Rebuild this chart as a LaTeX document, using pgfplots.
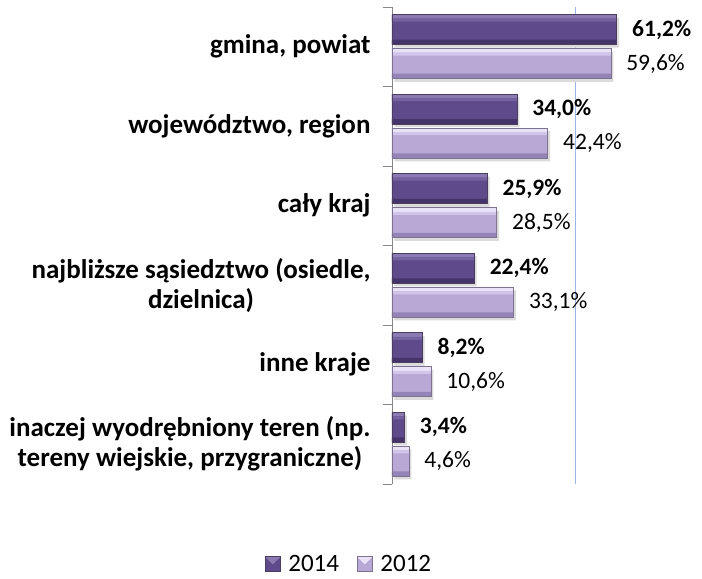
\documentclass[border=0pt]{standalone}
\usepackage{fontspec}
\setmainfont{Carlito}
\usepackage{pgfplots}
\pgfplotsset{compat=1.18}
\definecolor{dtop}{HTML}{8C7AB3}
\definecolor{dtop2}{HTML}{7463A0}
\definecolor{dmid}{HTML}{5F4A8B}
\definecolor{dbot}{HTML}{45346A}
\definecolor{ltop}{HTML}{EAE2F6}
\definecolor{ltop2}{HTML}{D2C5EA}
\definecolor{lmid}{HTML}{B8A8D5}
\definecolor{lbot}{HTML}{9483B6}
\definecolor{axisgray}{HTML}{868686}
\definecolor{gridblue}{HTML}{9DB5E6}
\definecolor{dline}{HTML}{4A3D5E}
\definecolor{lline}{HTML}{7D7390}
\pgfplotstableread{
y  v14  v12
6  61.2 59.6
5  34.0 42.4
4  25.9 28.5
3  22.4 33.1
2  8.2  10.6
1  3.4  4.6
}\data
\begin{document}
\begin{tikzpicture}
\path[use as bounding box] (-392bp,-95bp) rectangle (310bp,484bp);
\begin{axis}[
  at={(0,0)}, anchor=south west,
  scale only axis, width=257bp, height=477bp,
  xmin=0, xmax=70, ymin=0.5, ymax=6.5,
  clip=false,
  xbar,
  axis x line*=bottom, axis y line*=left,
  axis line style={-},
  x axis line style={draw=none},
  y axis line style={draw=axisgray, line width=0.9bp},
  xtick={50}, xticklabels={}, xtick style={draw=none},
  xmajorgrids, major x grid style={draw=gridblue, line width=1bp},
  ytick={1,...,6},
  major tick length=0pt,
  minor ytick={0.5,1.5,...,6.5},
  minor tick length=9bp,
  tick align=outside,
  minor y tick style={draw=axisgray, line width=0.9bp},
  yticklabels={{inaczej wyodrębniony teren (np.\\tereny wiejskie, przygraniczne)},{inne kraje},{najbliższe sąsiedztwo (osiedle,\\dzielnica)},{cały kraj},{województwo, region},{gmina, powiat}},
  yticklabel style={align=center, font=\fontsize{27bp}{30bp}\selectfont\bfseries, xshift=-18bp},
  legend columns=2,
  legend style={draw=none, fill=none, at={(axis description cs:-0.167,-0.168)}, anchor=center,
    font=\fontsize{25bp}{28bp}\selectfont,
    /tikz/every odd column/.append style={column sep=6bp},
    /tikz/every even column/.append style={column sep=16bp}},
]
% legend images
\addlegendimage{legend image code/.code={%
  \node[draw=dline, fill=dmid, line width=0.4bp, minimum width=15bp, minimum height=15bp, inner sep=0pt, anchor=west,
    path picture={\fill[dtop] (path picture bounding box.north west) -- (path picture bounding box.north east) -- (path picture bounding box.center) -- cycle;}] at (0bp,0bp) {};}}
\addlegendentry{2014}
\addlegendimage{legend image code/.code={%
  \node[draw=lline, fill=lmid, line width=0.4bp, minimum width=15bp, minimum height=15bp, inner sep=0pt, anchor=west,
    path picture={\fill[ltop] (path picture bounding box.north west) -- (path picture bounding box.north east) -- (path picture bounding box.center) -- cycle;}] at (0bp,0bp) {};}}
\addlegendentry{2012}
% shadows
\addplot[forget plot, xbar, bar width=30bp, bar shift=14bp, draw=none, fill=black!14, xshift=2.5bp] table[x=v14,y=y]{\data};
\addplot[forget plot, xbar, bar width=30bp, bar shift=-20bp, draw=none, fill=black!14, xshift=2.5bp] table[x=v12,y=y]{\data};
% main fills with labels
\addplot[forget plot, xbar, bar width=30bp, bar shift=17bp, draw=none, fill=dmid,
  point meta=x,
  nodes near coords={\pgfmathprintnumber[use comma, fixed, fixed zerofill, precision=1, assume math mode=true]{\pgfplotspointmeta}\%},
  every node near coord/.append style={anchor=west, xshift=12bp, font=\fontsize{23.5bp}{28bp}\selectfont\bfseries, text=black}]
  table[x=v14,y=y]{\data};
\addplot[forget plot, xbar, bar width=30bp, bar shift=-17bp, draw=none, fill=lmid,
  point meta=x,
  nodes near coords={\pgfmathprintnumber[use comma, fixed, fixed zerofill, precision=1, assume math mode=true]{\pgfplotspointmeta}\%},
  every node near coord/.append style={anchor=west, xshift=12bp, font=\fontsize{23.5bp}{28bp}\selectfont, text=black}]
  table[x=v12,y=y]{\data};
% bevel strips 2014
\addplot[forget plot, xbar, bar width=4bp, bar shift=30bp, draw=none, fill=dtop] table[x=v14,y=y]{\data};
\addplot[forget plot, xbar, bar width=3bp, bar shift=26.5bp, draw=none, fill=dtop2] table[x=v14,y=y]{\data};
\addplot[forget plot, xbar, bar width=5bp, bar shift=4.5bp, draw=none, fill=dbot] table[x=v14,y=y]{\data};
% bevel strips 2012
\addplot[forget plot, xbar, bar width=4bp, bar shift=-4bp, draw=none, fill=ltop] table[x=v12,y=y]{\data};
\addplot[forget plot, xbar, bar width=3bp, bar shift=-7.5bp, draw=none, fill=ltop2] table[x=v12,y=y]{\data};
\addplot[forget plot, xbar, bar width=5bp, bar shift=-29.5bp, draw=none, fill=lbot] table[x=v12,y=y]{\data};
% outlines
\addplot[forget plot, xbar, bar width=30bp, bar shift=17bp, draw=dline, line width=0.6bp, fill=none] table[x=v14,y=y]{\data};
\addplot[forget plot, xbar, bar width=30bp, bar shift=-17bp, draw=lline, line width=0.6bp, fill=none] table[x=v12,y=y]{\data};
\end{axis}
\end{tikzpicture}
\end{document}
